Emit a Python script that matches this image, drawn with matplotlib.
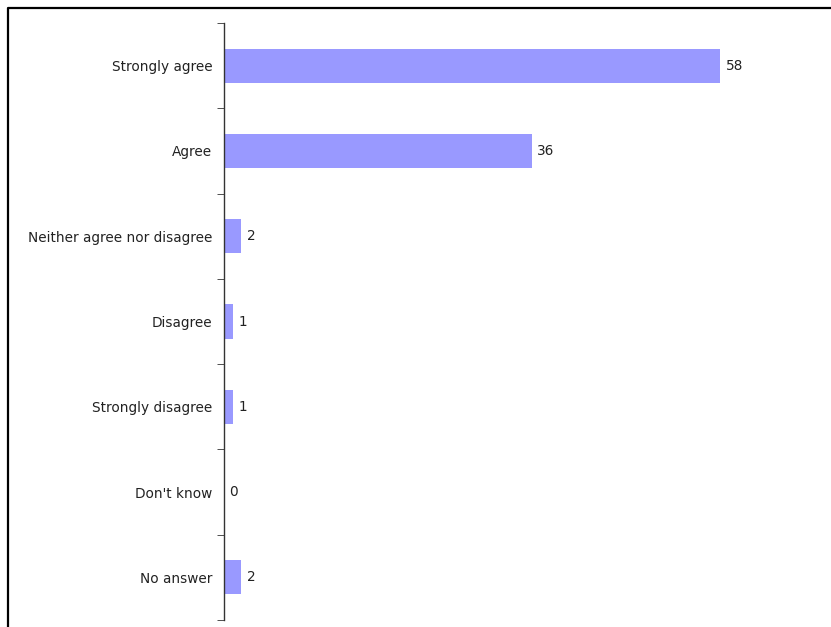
import numpy as np
import matplotlib.pyplot as plt
from matplotlib.lines import Line2D

categories = ['Strongly agree', 'Agree', 'Neither agree nor disagree',
              'Disagree', 'Strongly disagree', "Don't know", 'No answer']
values = [58, 36, 2, 1, 1, 0, 2]

W, H = 831, 627
fig = plt.figure(figsize=(W / 100, H / 100), dpi=100)

# outer frame (left and top edges visible)
fig.add_artist(Line2D([8 / W, 8 / W, 1.0], [0.0, 1 - 8 / H, 1 - 8 / H],
                      transform=fig.transFigure, color='black', lw=1.6))

ax = fig.add_axes([224 / W, 7 / H, (W - 224) / W, (620 - 23) / H])
y = np.arange(len(categories))
ax.barh(y, values, height=0.4, color='#9999FF', zorder=2)
for yi, v in zip(y, values):
    ax.text(v + 0.65, yi, str(v), va='center', ha='left', fontsize=9.8, color='#222222')

ax.set_xlim(0, (W - 224) / (496 / 58))
ax.set_ylim(len(categories) - 0.5, -0.5)
ax.set_yticks(y)
ax.set_yticklabels(categories, fontsize=9.8, color='#222222')
ax.set_yticks(np.arange(-0.5, len(categories)), minor=True)
ax.tick_params(axis='y', which='major', length=0, pad=8.5)
ax.tick_params(axis='y', which='minor', length=5, direction='out', color='#333333')
ax.set_xticks([])
for side in ['top', 'right', 'bottom']:
    ax.spines[side].set_visible(False)
ax.spines['left'].set_color('#333333')
ax.spines['left'].set_linewidth(1.0)

fig.savefig('out.png', dpi=100)
